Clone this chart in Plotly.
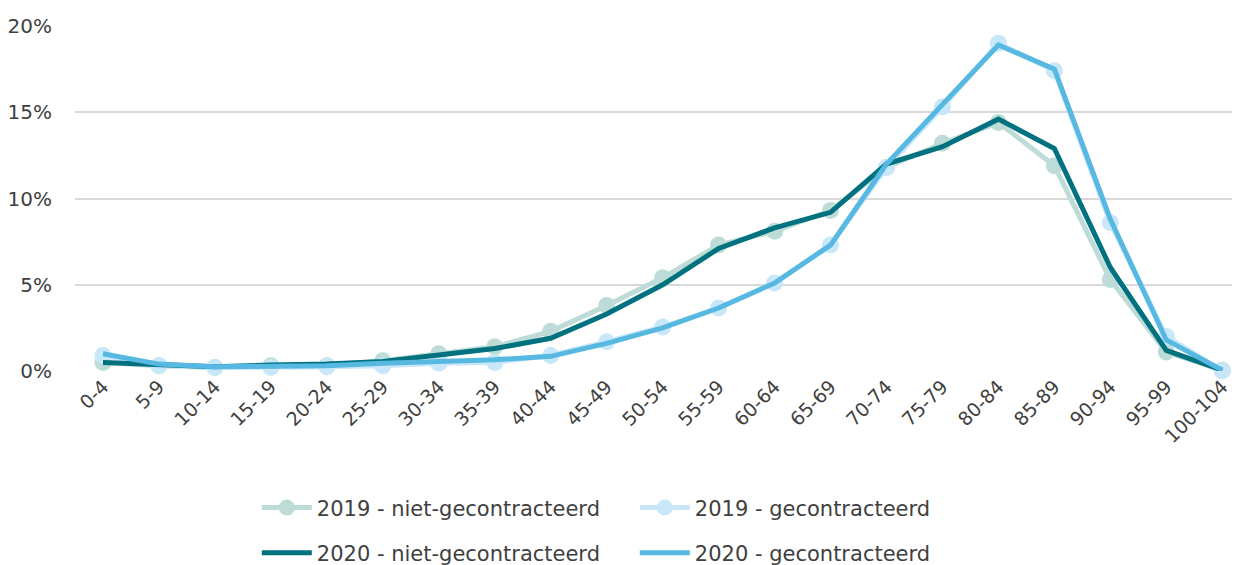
import plotly.graph_objects as go

categories = ["0-4", "5-9", "10-14", "15-19", "20-24", "25-29", "30-34", "35-39",
              "40-44", "45-49", "50-54", "55-59", "60-64", "65-69", "70-74", "75-79",
              "80-84", "85-89", "90-94", "95-99", "100-104"]

niet_2019 = [0.5, 0.3, 0.2, 0.3, 0.3, 0.6, 1.0, 1.4, 2.3, 3.8, 5.4, 7.3, 8.1, 9.3,
             11.8, 13.2, 14.4, 11.9, 5.3, 1.1, 0.05]
gecon_2019 = [0.9, 0.3, 0.2, 0.2, 0.25, 0.3, 0.45, 0.5, 0.9, 1.7, 2.55, 3.65, 5.1, 7.3,
              11.8, 15.3, 19.0, 17.4, 8.6, 2.0, 0.0]
niet_2020 = [0.5, 0.35, 0.25, 0.35, 0.4, 0.55, 0.95, 1.3, 1.9, 3.3, 5.0, 7.1, 8.3, 9.2,
             12.0, 13.0, 14.6, 12.9, 6.0, 1.2, 0.05]
gecon_2020 = [1.0, 0.4, 0.25, 0.3, 0.3, 0.45, 0.55, 0.65, 0.85, 1.6, 2.5, 3.65, 5.1, 7.3,
              12.0, 15.5, 18.9, 17.5, 8.8, 1.8, 0.05]

y_ticks = [0, 5, 10, 15, 20]
y_tick_labels = ["0%", "5%", "10%", "15%", "20%"]

FONT = "DejaVu Sans"
TXT = "#404040"

fig = go.Figure()
fig.add_trace(go.Scatter(x=categories, y=niet_2019, name="2019 - niet-gecontracteerd",
                         mode="lines+markers", line=dict(color="#bddcd8", width=5),
                         marker=dict(color="#bddcd8", size=17), cliponaxis=False,
                         legend="legend"))
fig.add_trace(go.Scatter(x=categories, y=gecon_2019, name="2019 - gecontracteerd",
                         mode="lines+markers", line=dict(color="#c8e7f9", width=5),
                         marker=dict(color="#c8e7f9", size=17), cliponaxis=False,
                         legend="legend"))
fig.add_trace(go.Scatter(x=categories, y=niet_2020, name="2020 - niet-gecontracteerd",
                         mode="lines", line=dict(color="#00717f", width=5),
                         cliponaxis=False, legend="legend2"))
fig.add_trace(go.Scatter(x=categories, y=gecon_2020, name="2020 - gecontracteerd",
                         mode="lines", line=dict(color="#57b9e2", width=5),
                         cliponaxis=False, legend="legend2"))

legend_common = dict(orientation="h", xanchor="left", yanchor="middle",
                     font=dict(family=FONT, size=21, color=TXT),
                     entrywidth=313, itemwidth=50, bgcolor="rgba(0,0,0,0)")

fig.update_layout(
    width=1240, height=565,
    margin=dict(l=67, r=0, t=18, b=202, autoexpand=False),
    paper_bgcolor="white", plot_bgcolor="white",
    font=dict(family=FONT, color=TXT, size=20),
    xaxis=dict(type="category", range=[-0.5, 20.46], showgrid=False, showline=False,
               zeroline=False, ticks="", tickangle=-45, automargin=False,
               tickfont=dict(family=FONT, size=19, color=TXT)),
    yaxis=dict(range=[0, 20], tickvals=y_ticks, ticktext=y_tick_labels,
               showgrid=True, gridcolor="#d9d9d9", gridwidth=2, zeroline=False,
               showline=False, ticks="", ticklabelstandoff=22, automargin=False,
               tickfont=dict(family=FONT, size=20, color=TXT)),
    legend=dict(x=0.155, y=-0.397, **legend_common),
    legend2=dict(x=0.155, y=-0.528, **legend_common),
)

fig.write_html("out.html")
